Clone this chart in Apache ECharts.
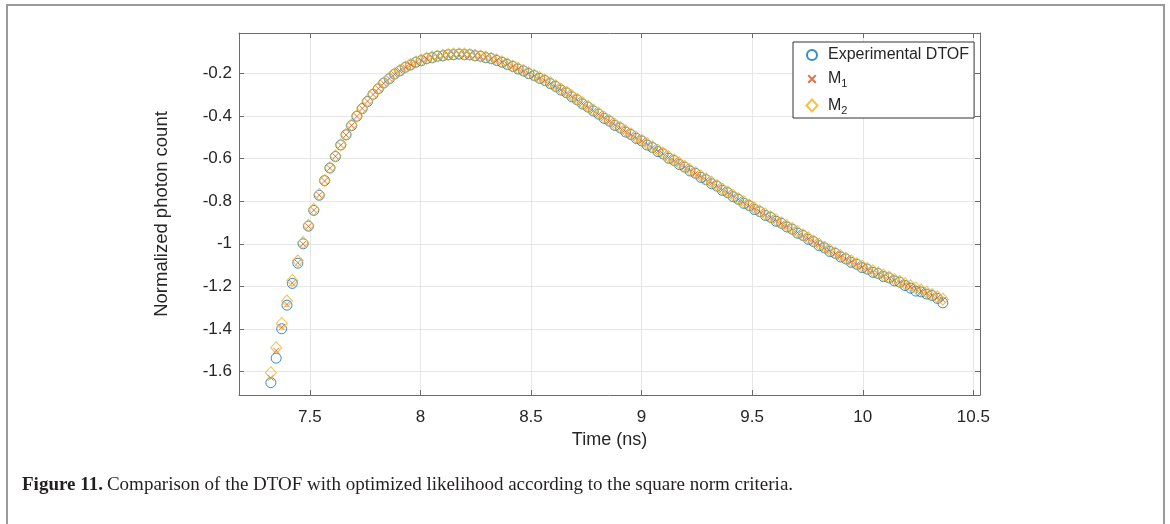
<!DOCTYPE html>
<html>
<head>
<meta charset="utf-8">
<script src="https://cdn.jsdelivr.net/npm/echarts@6/dist/echarts.min.js"></script>
<style>
  html, body { margin: 0; padding: 0; background: #fff; }
  #chart { width: 1170px; height: 524px; }
</style>
</head>
<body>
<div id="chart"></div>
<script>
// time bins (ns)
const timeNs = [
  7.324, 7.348, 7.373, 7.397, 7.421, 7.446, 7.470, 7.494, 7.518, 7.543,
  7.567, 7.591, 7.616, 7.640, 7.664, 7.689, 7.713, 7.737, 7.761, 7.786,
  7.810, 7.834, 7.859, 7.883, 7.907, 7.932, 7.956, 7.980, 8.004, 8.029,
  8.053, 8.077, 8.102, 8.126, 8.150, 8.175, 8.199, 8.223, 8.247, 8.272,
  8.296, 8.320, 8.345, 8.369, 8.393, 8.418, 8.442, 8.466, 8.490, 8.515,
  8.539, 8.563, 8.588, 8.612, 8.636, 8.661, 8.685, 8.709, 8.733, 8.758,
  8.782, 8.806, 8.831, 8.855, 8.879, 8.904, 8.928, 8.952, 8.976, 9.001,
  9.025, 9.049, 9.074, 9.098, 9.122, 9.147, 9.171, 9.195, 9.219, 9.244,
  9.268, 9.292, 9.317, 9.341, 9.365, 9.390, 9.414, 9.438, 9.462, 9.487,
  9.511, 9.535, 9.560, 9.584, 9.608, 9.633, 9.657, 9.681, 9.705, 9.730,
  9.754, 9.778, 9.803, 9.827, 9.851, 9.876, 9.900, 9.924, 9.948, 9.973,
  9.997, 10.021, 10.046, 10.070, 10.094, 10.119, 10.143, 10.167, 10.191, 10.216,
  10.240, 10.264, 10.289, 10.313, 10.337, 10.362
];

const expDtof = [
  -1.652, -1.537, -1.399, -1.288, -1.186, -1.091, -1.000, -0.917, -0.843, -0.772,
  -0.703, -0.644, -0.590, -0.536, -0.488, -0.445, -0.401, -0.365, -0.332, -0.298,
  -0.272, -0.245, -0.225, -0.203, -0.188, -0.171, -0.160, -0.147, -0.140, -0.130,
  -0.126, -0.119, -0.117, -0.112, -0.112, -0.109, -0.112, -0.112, -0.117, -0.119,
  -0.126, -0.130, -0.139, -0.147, -0.158, -0.167, -0.179, -0.188, -0.201, -0.210,
  -0.223, -0.233, -0.248, -0.261, -0.278, -0.291, -0.310, -0.324, -0.343, -0.358,
  -0.376, -0.391, -0.411, -0.424, -0.444, -0.456, -0.475, -0.487, -0.505, -0.517,
  -0.536, -0.548, -0.567, -0.578, -0.598, -0.609, -0.628, -0.640, -0.658, -0.669,
  -0.688, -0.699, -0.718, -0.729, -0.749, -0.760, -0.779, -0.791, -0.810, -0.821,
  -0.839, -0.849, -0.867, -0.876, -0.894, -0.904, -0.921, -0.931, -0.950, -0.961,
  -0.979, -0.990, -1.009, -1.019, -1.036, -1.045, -1.062, -1.071, -1.087, -1.096,
  -1.112, -1.119, -1.134, -1.140, -1.154, -1.160, -1.174, -1.180, -1.196, -1.208,
  -1.222, -1.226, -1.236, -1.243, -1.256, -1.277
];

const modelM1 = [
  -1.629, -1.502, -1.392, -1.285, -1.184, -1.089, -1.001, -0.918, -0.842, -0.771,
  -0.705, -0.645, -0.589, -0.537, -0.489, -0.444, -0.402, -0.364, -0.330, -0.299,
  -0.271, -0.246, -0.224, -0.204, -0.187, -0.172, -0.159, -0.148, -0.139, -0.131,
  -0.125, -0.120, -0.116, -0.113, -0.111, -0.110, -0.111, -0.113, -0.116, -0.120,
  -0.125, -0.131, -0.138, -0.147, -0.157, -0.167, -0.178, -0.189, -0.200, -0.211,
  -0.222, -0.234, -0.247, -0.262, -0.277, -0.292, -0.309, -0.325, -0.342, -0.359,
  -0.375, -0.392, -0.409, -0.425, -0.442, -0.457, -0.473, -0.488, -0.503, -0.518,
  -0.533, -0.549, -0.564, -0.579, -0.595, -0.610, -0.625, -0.640, -0.655, -0.670,
  -0.685, -0.700, -0.715, -0.730, -0.746, -0.761, -0.776, -0.792, -0.807, -0.822,
  -0.836, -0.850, -0.864, -0.877, -0.891, -0.905, -0.918, -0.932, -0.947, -0.962,
  -0.976, -0.991, -1.006, -1.020, -1.033, -1.046, -1.059, -1.072, -1.084, -1.097,
  -1.109, -1.120, -1.131, -1.141, -1.151, -1.161, -1.171, -1.181, -1.191, -1.201,
  -1.211, -1.221, -1.231, -1.242, -1.253, -1.264
];

const modelM2 = [
  -1.605, -1.488, -1.374, -1.269, -1.172, -1.080, -0.994, -0.913, -0.838, -0.768,
  -0.703, -0.643, -0.587, -0.535, -0.487, -0.442, -0.400, -0.362, -0.328, -0.297,
  -0.269, -0.244, -0.222, -0.202, -0.185, -0.170, -0.157, -0.146, -0.137, -0.129,
  -0.123, -0.118, -0.114, -0.111, -0.109, -0.108, -0.109, -0.111, -0.114, -0.118,
  -0.123, -0.129, -0.136, -0.145, -0.155, -0.165, -0.175, -0.186, -0.197, -0.208,
  -0.219, -0.231, -0.244, -0.258, -0.273, -0.288, -0.304, -0.321, -0.338, -0.355,
  -0.371, -0.388, -0.405, -0.421, -0.438, -0.453, -0.469, -0.484, -0.499, -0.514,
  -0.529, -0.545, -0.560, -0.575, -0.591, -0.606, -0.621, -0.636, -0.651, -0.666,
  -0.681, -0.696, -0.711, -0.726, -0.742, -0.757, -0.772, -0.788, -0.803, -0.818,
  -0.832, -0.846, -0.860, -0.873, -0.887, -0.901, -0.914, -0.928, -0.943, -0.958,
  -0.972, -0.987, -1.002, -1.016, -1.029, -1.042, -1.055, -1.068, -1.080, -1.093,
  -1.105, -1.116, -1.127, -1.137, -1.147, -1.157, -1.167, -1.177, -1.187, -1.197,
  -1.207, -1.217, -1.227, -1.238, -1.249, -1.260
];

const xTicks = [7.5, 8, 8.5, 9, 9.5, 10, 10.5];
const yTicks = [-1.6, -1.4, -1.2, -1, -0.8, -0.6, -0.4, -0.2];

const pairs = (ys) => timeNs.map((t, i) => [t, ys[i]]);

const axisColor = '#6b6b6b';
const textColor = '#262626';
const font = 'Liberation Sans';

// legend icons, with empty moves so each glyph sits smaller inside the 12px box
const iconCircle = 'path://M-1,-1M11,11M5,0A5,5 0 1,1 4.99,0Z';
const iconCross = 'path://M-3,-3M13,13M0,0L10,10M10,0L0,10';
const iconDiamond = 'path://M-1,-1M11,11M5,-1L10.5,5L5,11L-0.5,5Z';

const chart = echarts.init(document.getElementById('chart'));

const baseX = {
  type: 'value', min: 7.18, max: 10.53,
  axisLine: { show: true, onZero: false, lineStyle: { color: axisColor, width: 1 } },
  axisTick: { show: true, inside: true, length: 5, customValues: xTicks, lineStyle: { color: axisColor } }
};
const baseY = {
  type: 'value', min: -1.71, max: -0.01,
  axisLine: { show: true, onZero: false, lineStyle: { color: axisColor, width: 1 } },
  axisTick: { show: true, inside: true, length: 5, customValues: yTicks, lineStyle: { color: axisColor } }
};

chart.setOption({
  animation: false,
  backgroundColor: '#fff',
  grid: { left: 239, right: 190, top: 33, bottom: 129 },
  xAxis: [
    Object.assign({}, baseX, {
      position: 'bottom',
      name: 'Time (ns)', nameLocation: 'middle', nameGap: 34,
      nameTextStyle: { color: textColor, fontSize: 18, fontFamily: font },
      axisLabel: { customValues: xTicks, color: textColor, fontSize: 17, fontFamily: font, margin: 14 },
      splitLine: { show: true, lineStyle: { color: '#e6e6e6' } }
    }),
    Object.assign({}, baseX, {
      position: 'top', axisLabel: { show: false }, splitLine: { show: false }
    })
  ],
  yAxis: [
    Object.assign({}, baseY, {
      position: 'left',
      name: 'Normalized photon count', nameLocation: 'middle', nameGap: 68,
      nameTextStyle: { color: textColor, fontSize: 18.5, fontFamily: font },
      axisLabel: { customValues: yTicks, color: textColor, fontSize: 17, fontFamily: font, margin: 7 },
      splitLine: { show: true, lineStyle: { color: '#e6e6e6' } }
    }),
    Object.assign({}, baseY, {
      position: 'right', axisLabel: { show: false }, splitLine: { show: false }
    })
  ],
  legend: {
    orient: 'vertical',
    left: 793, top: 42,
    padding: [5, 5, 2, 12],
    itemGap: 8,
    itemWidth: 12, itemHeight: 12,
    backgroundColor: '#fff',
    borderColor: '#333', borderWidth: 1,
    data: [
      { name: 'Experimental DTOF', icon: iconCircle },
      { name: 'M1', icon: iconCross },
      { name: 'M2', icon: iconDiamond }
    ],
    formatter: (name) => name === 'M1' ? 'M{s|1}' : name === 'M2' ? 'M{s|2}' : name,
    textStyle: {
      color: textColor, fontSize: 16, fontFamily: font, padding: [0, 0, 0, 5],
      rich: { s: { fontSize: 11, fontFamily: font, color: textColor, padding: [10, 0, 0, 0] } }
    }
  },
  series: [
    {
      name: 'Experimental DTOF', type: 'scatter', data: pairs(expDtof),
      symbol: 'circle', symbolSize: 10, silent: true,
      itemStyle: { color: 'rgba(0,0,0,0)', borderColor: '#0072BD', borderWidth: 1 }
    },
    {
      name: 'M1', type: 'scatter', data: pairs(modelM1),
      symbol: 'path://M0,0L10,10M10,0L0,10', symbolSize: 6, silent: true,
      itemStyle: { color: 'rgba(0,0,0,0)', borderColor: '#D95319', borderWidth: 1 }
    },
    {
      name: 'M2', type: 'scatter', data: pairs(modelM2),
      symbol: 'diamond', symbolSize: [11, 12], silent: true,
      itemStyle: { color: 'rgba(0,0,0,0)', borderColor: '#EDB120', borderWidth: 1 }
    }
  ],
  graphic: [
    {
      type: 'rect', silent: true, z: -1,
      shape: { x: 7, y: 5, width: 1157, height: 600 },
      style: { fill: 'none', stroke: '#9a9a9a', lineWidth: 2 }
    },
    {
      type: 'text', left: 22, top: 476, silent: true,
      style: {
        text: '{b|Figure 11.}Comparison of the DTOF with optimized likelihood according to the square norm criteria.',
        fill: '#231f20', fontSize: 19, fontFamily: 'Liberation Serif',
        rich: { b: { fontWeight: 'bold', fontSize: 19, fontFamily: 'Liberation Serif', fill: '#231f20', padding: [0, 4, 0, 0] } }
      }
    }
  ]
});
</script>
</body>
</html>
